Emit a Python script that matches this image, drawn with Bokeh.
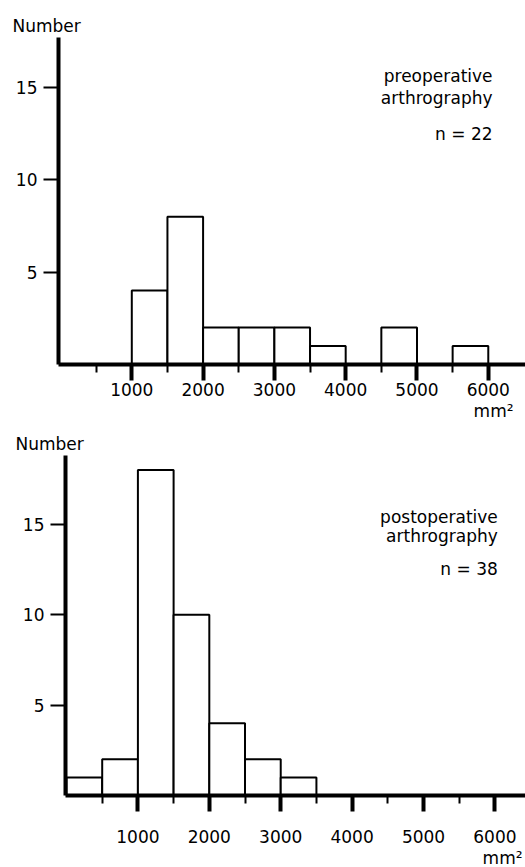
from bokeh.plotting import figure
from bokeh.layouts import column, row
from bokeh.models import FixedTicker, Label, Range1d, Title
from bokeh.embed import file_html
from bokeh.resources import INLINE

bin_width = 500
pre_bin_starts = [1000, 1500, 2000, 2500, 3000, 3500, 4500, 5500]
pre_counts = [4, 8, 2, 2, 2, 1, 2, 1]
post_bin_starts = [0, 500, 1000, 1500, 2000, 2500, 3000]
post_counts = [1, 2, 18, 10, 4, 2, 1]
x_major_ticks = [1000, 2000, 3000, 4000, 5000, 6000]
x_minor_ticks = [500, 1500, 2500, 3500, 4500, 5500]
y_ticks = [5, 10, 15]
pre_label = ["preoperative", "arthrography", "n = 22"]
post_label = ["postoperative", "arthrography", "n = 38"]

FONT = "DejaVu Sans"
FS = "17px"


def make_panel(starts, counts, labels, height, border_top, border_left, border_bottom,
               x_start, x_end, y_end, label_x, label_ys, x_standoff, num_offset, mm_offset):
    p = figure(width=525, height=height, output_backend="svg", toolbar_location=None,
               x_range=Range1d(x_start, x_end), y_range=Range1d(0, y_end),
               min_border_top=border_top, min_border_left=border_left,
               min_border_bottom=border_bottom, min_border_right=0)
    p.outline_line_color = None
    p.xgrid.visible = False
    p.ygrid.visible = False

    p.title.text = "Number"
    p.title.align = "left"
    p.title.offset = num_offset
    p.title.standoff = 4
    p.title.text_font = FONT
    p.title.text_font_size = FS
    p.title.text_font_style = "normal"
    p.title.text_color = "black"

    lefts = list(starts)
    rights = [s + bin_width for s in starts]
    p.quad(left=lefts, right=rights, bottom=0, top=counts,
           fill_color="white", line_color="black", line_width=2)

    xa = p.xaxis[0]
    xa.ticker = FixedTicker(ticks=x_major_ticks, minor_ticks=x_minor_ticks)
    xa.axis_line_width = 4
    xa.axis_line_color = "black"
    xa.major_tick_line_width = 4
    xa.major_tick_out = 16
    xa.major_tick_in = 0
    xa.minor_tick_line_width = 2
    xa.minor_tick_out = 8
    xa.minor_tick_in = 0
    xa.major_label_text_font = FONT
    xa.major_label_text_font_size = FS
    xa.major_label_text_color = "black"
    xa.major_label_standoff = x_standoff

    ya = p.yaxis[0]
    ya.ticker = FixedTicker(ticks=y_ticks, minor_ticks=[])
    ya.axis_line_width = 4
    ya.axis_line_color = "black"
    ya.major_tick_line_width = 2
    ya.major_tick_out = 15
    ya.major_tick_in = 0
    ya.minor_tick_out = 0
    ya.minor_tick_in = 0
    ya.major_label_text_font = FONT
    ya.major_label_text_font_size = FS
    ya.major_label_text_color = "black"
    ya.major_label_standoff = 6

    for txt, yy in zip(labels, label_ys):
        p.add_layout(Label(x=label_x, y=yy, text=txt, text_align="right", text_baseline="middle",
                           text_font=FONT, text_font_size=FS, text_color="black"))

    mm = Title(text="mm²", align="right", offset=mm_offset, standoff=0,
               text_font=FONT, text_font_size="17px", text_font_style="normal", text_color="black")
    p.add_layout(mm, "below")
    return p


p1 = make_panel(pre_bin_starts, pre_counts, pre_label, 425, 37, 58, 61,
                -28, 6522, 17.7, 6060, [15.6, 14.45, 12.5], 2, -46, 12)
p2 = make_panel(post_bin_starts, post_counts, post_label, 442, 30, 65, 69,
                -14, 6428, 18.8, 6040, [15.4, 14.35, 12.5], 18, -50, 3)

layout = column(row(p1), row(p2), spacing=0)
open("out.html", "w").write(file_html(layout, INLINE))
